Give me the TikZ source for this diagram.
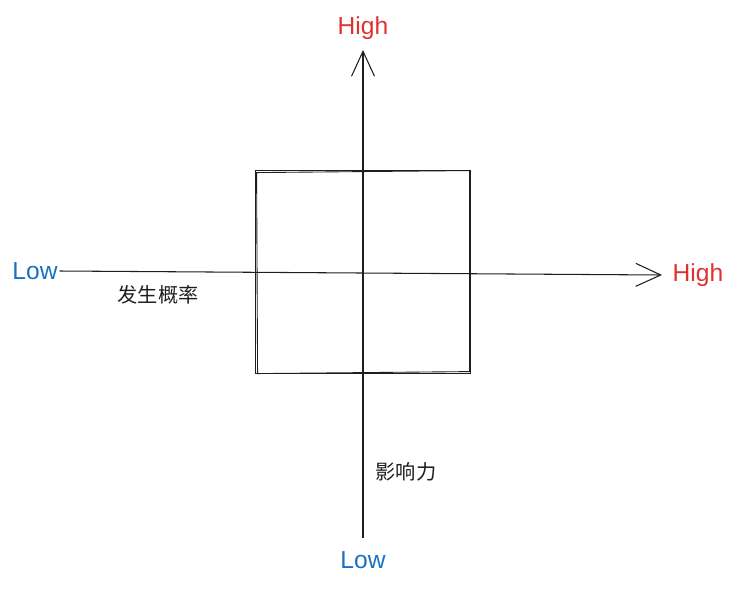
\documentclass[tikz,border=0pt]{standalone}
\usepackage{fontspec}
\setmainfont{Liberation Sans}
\newfontfamily\cjk{Noto Sans CJK SC}
\usepackage{xcolor}
\usetikzlibrary{arrows.meta, positioning}
\definecolor{hired}{RGB}{224, 49, 49}
\definecolor{lowblue}{RGB}{25, 113, 194}
\definecolor{inkdark}{RGB}{30, 30, 30}
\tikzset{
    axis/.style  ={-{Straight Barb[length=5mm, width=4.6mm, line width=0.6pt]},
                   line width=0.6pt, draw=inkdark},
    hi/.style    ={text=hired, font=\fontsize{14}{16}\selectfont, inner sep=1pt},
    lo/.style    ={text=lowblue, font=\fontsize{14}{16}\selectfont, inner sep=1pt},
    zh/.style    ={text=inkdark, font=\cjk\fontsize{11.5}{13}\selectfont, inner sep=1pt},
    box/.style   ={draw=inkdark, line width=0.5pt, minimum width=4.3cm, minimum height=4.06cm}
}

\begin{document}
\begin{tikzpicture}[x=0.02cm, y=-0.02cm]
  \useasboundingbox[fill=white] (0,0) rectangle (734,589);

  \node[lo] (lowx)  at (35,271)  {Low};
  \node[hi] (highx) at (698,275) {High};
  \node[hi] (highy) at (363,28)  {High};
  \node[lo] (lowy)  at (363,560) {Low};

  \node[box] (zone) at (362.5,271.5) {};
  \draw[draw=inkdark, line width=0.5pt]
    (zone.north west) ++(2,3) -- ++(213,-2) -- ++(0,201) -- ++(-212,2) -- cycle;

  \coordinate (xend)   at (662,275);
  \coordinate (ystart) at (363,538);
  \coordinate (yend)   at (363,50);
  \draw[axis] (lowx.east) -- (xend);
  \draw[axis] (ystart) -- (yend);

  \node[zh] (prob)   at (158,295) {发生概率};
  \node[zh] (impact) at (406,472) {影响力};
\end{tikzpicture}
\end{document}
